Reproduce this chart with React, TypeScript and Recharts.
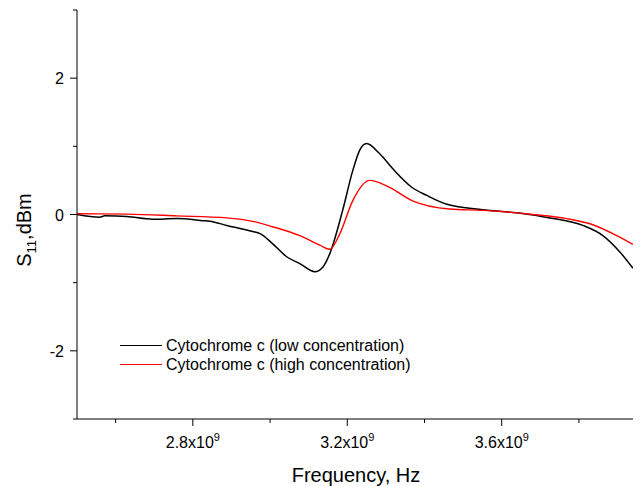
import React from "react";
import { LineChart, Line, XAxis, YAxis } from "recharts";

// Frequencies in Hz, S11 values in dBm
const lowFreq = [
  2.5e9, 2.559e9, 2.572e9, 2.629e9, 2.696e9, 2.758e9, 2.826e9, 2.844e9, 2.888e9,
  2.955e9, 2.974e9, 3.007e9, 3.043e9, 3.077e9, 3.116e9, 3.137e9, 3.155e9,
  3.188e9, 3.214e9, 3.232e9, 3.25e9, 3.284e9, 3.318e9, 3.367e9, 3.406e9,
  3.458e9, 3.551e9, 3.639e9, 3.725e9, 3.81e9, 3.862e9, 3.906e9, 3.94e9,
];
const lowValues = [
  0, -0.04, -0.02, -0.03, -0.07, -0.06, -0.09, -0.1, -0.16,
  -0.25, -0.28, -0.43, -0.62, -0.72, -0.84, -0.77, -0.57,
  0.06, 0.64, 0.94, 1.04, 0.89, 0.67, 0.4, 0.28,
  0.15, 0.07, 0.025, -0.05, -0.16, -0.31, -0.55, -0.79,
];

const highFreq = [
  2.5e9, 2.629e9, 2.758e9, 2.888e9, 2.955e9, 3.007e9, 3.077e9, 3.129e9, 3.155e9,
  3.181e9, 3.214e9, 3.258e9, 3.302e9, 3.369e9, 3.465e9, 3.551e9, 3.681e9,
  3.768e9, 3.836e9, 3.898e9, 3.94e9,
];
const highValues = [
  0.01, 0.005, -0.02, -0.05, -0.1, -0.18, -0.31, -0.45, -0.51,
  -0.28, 0.2, 0.5, 0.42, 0.2, 0.08, 0.06, 0.0,
  -0.06, -0.15, -0.31, -0.44,
];

const xTicks = [2.6e9, 2.8e9, 3.0e9, 3.2e9, 3.4e9, 3.6e9, 3.8e9];
const yTicks = [-3, -2, -1, 0, 1, 2, 3];
const xMajorLabels: Record<number, string> = { 28: "2.8", 32: "3.2", 36: "3.6" };
const yMajor = [-2, 0, 2];

const seriesNames = [
  "Cytochrome c (low concentration)",
  "Cytochrome c (high concentration)",
];
const seriesColors = ["#000000", "#ff0000"];

const lowData = lowFreq.map((f, i) => ({ f, v: lowValues[i] }));
const highData = highFreq.map((f, i) => ({ f, v: highValues[i] }));

const FONT = "'Liberation Sans', Arial, sans-serif";

const XTick = (props: any) => {
  const { x, y, payload } = props;
  const key = Math.round(payload.value / 1e8);
  const label = xMajorLabels[key];
  const major = !!label;
  return (
    <g>
      <line x1={x} x2={x} y1={y} y2={y + (major ? 7 : 4)} stroke="#000" strokeWidth={1} />
      {major && (
        <text x={x} y={y + 29} textAnchor="middle" fontFamily={FONT} fontSize={16} fill="#000">
          {label}x10
          <tspan fontSize={11} dy={-7}>9</tspan>
        </text>
      )}
    </g>
  );
};

const YTick = (props: any) => {
  const { x, y, payload } = props;
  const major = yMajor.includes(payload.value);
  return (
    <g>
      <line x1={x} x2={x - (major ? 7 : 4)} y1={y} y2={y} stroke="#000" strokeWidth={1} />
      {major && (
        <text x={x - 13} y={y + 6} textAnchor="end" fontFamily={FONT} fontSize={16} fill="#000">
          {payload.value}
        </text>
      )}
    </g>
  );
};

const LegendBox = () => (
  <div
    style={{
      position: "absolute",
      left: 118,
      top: 336,
      fontFamily: FONT,
      fontSize: 16,
      color: "#000",
      lineHeight: "19px",
    }}
  >
    {seriesNames.map((n, i) => (
      <div key={n} style={{ display: "flex", alignItems: "center", height: 19, whiteSpace: "nowrap" }}>
        <svg width={48} height={19} style={{ display: "block" }}>
          <line x1={2} x2={44} y1={9.5} y2={9.5} stroke={seriesColors[i]} strokeWidth={1} />
        </svg>
        <span>{n}</span>
      </div>
    ))}
  </div>
);

export default function App() {
  return (
    <div style={{ position: "absolute", left: 0, top: 0, width: 640, height: 486, background: "#fff" }}>
      <LineChart width={640} height={486} margin={{ top: 10, right: 7, bottom: 0, left: 0 }}>
        <XAxis
          type="number"
          dataKey="f"
          domain={[2.5e9, 3.94e9]}
          allowDataOverflow
          ticks={xTicks}
          interval={0}
          height={67}
          tickSize={0}
          tickMargin={0}
          tickLine={false}
          axisLine={{ stroke: "#000", strokeWidth: 1 }}
          tick={<XTick />}
          label={{
            content: () => (
              <text x={356} y={482} textAnchor="middle" fontFamily={FONT} fontSize={20} fill="#000">
                Frequency, Hz
              </text>
            ),
          }}
        />
        <YAxis
          type="number"
          domain={[-3, 3]}
          allowDataOverflow
          ticks={yTicks}
          interval={0}
          width={77}
          tickSize={0}
          tickMargin={0}
          tickLine={false}
          axisLine={{ stroke: "#000", strokeWidth: 1 }}
          tick={<YTick />}
          label={{
            content: () => (
              <text
                transform="translate(31,230) rotate(-90)"
                x={0}
                y={0}
                textAnchor="middle"
                fontFamily={FONT}
                fontSize={20}
                fill="#000"
              >
                S
                <tspan fontSize={13} dy={5}>11</tspan>
                <tspan dy={-5}>,dBm</tspan>
              </text>
            ),
          }}
        />
        <Line
          data={lowData}
          dataKey="v"
          name={seriesNames[0]}
          type="monotone"
          stroke={seriesColors[0]}
          strokeWidth={1.5}
          dot={false}
          isAnimationActive={false}
        />
        <Line
          data={highData}
          dataKey="v"
          name={seriesNames[1]}
          type="monotone"
          stroke={seriesColors[1]}
          strokeWidth={1.4}
          dot={false}
          isAnimationActive={false}
        />
      </LineChart>
      <LegendBox />
    </div>
  );
}
